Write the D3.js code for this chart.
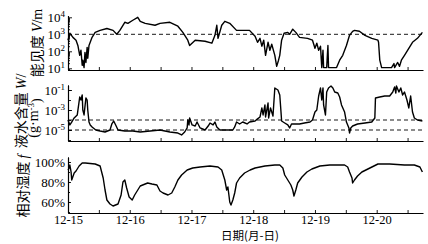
<!DOCTYPE html>
<html><head><meta charset="utf-8">
<script src="https://cdn.jsdelivr.net/npm/d3@7/dist/d3.min.js"></script>
<style>body{margin:0;background:#fff}svg{display:block}</style>
</head><body><svg id="c" width="428" height="244"></svg>
<script>
// time in days since 12-15 00:00
const dateLabels = ["12-15","12-16","12-17","12-18","12-19","12-20"];
const halfDays = [0,0.5,1,1.5,2,2.5,3,3.5,4,4.5,5,5.5];

const visTime = [
 0,0.03,0.08,0.13,0.16,0.19,0.21,0.23,0.24,0.26,
 0.275,0.29,0.31,0.32,0.34,0.39,0.44,0.52,0.63,0.73,
 0.79,0.84,0.92,0.97,1.05,1.13,1.17,1.25,1.41,1.49,
 1.65,1.78,1.86,1.94,1.97,2.06,2.22,2.33,2.38,2.41,
 2.43,2.49,2.54,2.62,2.73,2.86,2.94,3.03,3.07,3.11,
 3.14,3.17,3.20,3.24,3.27,3.30,3.35,3.38,3.41,3.43,
 3.46,3.50,3.56,3.59,3.64,3.69,3.75,3.88,3.96,4.00,
 4.03,4.06,4.09,4.11,4.13,4.14,4.19,4.21,4.22,4.35,
 4.40,4.45,4.51,4.56,4.61,4.64,4.72,4.81,4.92,5.02,
 5.03,5.05,5.08,5.24,5.28,5.29,5.34,5.37,5.40,5.45,
 5.50,5.58,5.66,5.74];
const visValue = [
 450,1150,660,450,220,58,115,15,30,11,
 87,22,170,39,220,660,1300,1700,2200,1700,
 1000,1700,5100,4400,6700,10000,5800,4400,3400,4400,
 5100,3000,1300,450,220,450,390,300,870,3400,
 580,3400,5800,4400,1700,1700,1700,760,340,580,
 200,450,58,340,115,260,58,13,30,58,
 450,1150,1300,1000,2000,1300,660,580,450,150,
 300,115,200,11,115,11,11,220,11,11,
 30,58,220,870,1500,1700,1500,870,580,450,
 340,30,11,11,19,11,22,13,30,58,
 115,340,580,1300];

const lwcTime = [
 0,0.03,0.06,0.10,0.15,0.19,0.21,0.23,0.24,0.26,
 0.29,0.31,0.32,0.34,0.36,0.39,0.45,0.52,0.60,0.68,
 0.71,0.74,0.78,0.81,0.92,1.05,1.17,1.33,1.49,1.65,
 1.78,1.84,1.89,1.93,1.94,1.96,1.97,2.01,2.06,2.09,
 2.14,2.22,2.27,2.30,2.35,2.38,2.41,2.46,2.54,2.67,
 2.70,2.73,2.78,2.83,2.90,2.94,3.03,3.07,3.11,3.14,
 3.16,3.19,3.20,3.24,3.25,3.28,3.32,3.35,3.40,3.43,
 3.45,3.46,3.51,3.56,3.59,3.62,3.67,3.75,3.83,3.92,
 3.96,4.00,4.03,4.06,4.09,4.11,4.13,4.14,4.17,4.19,
 4.22,4.26,4.29,4.32,4.37,4.40,4.43,4.48,4.51,4.55,
 4.56,4.58,4.61,4.69,4.81,4.92,4.97,4.98,5.05,5.13,
 5.21,5.26,5.29,5.31,5.32,5.36,5.39,5.42,5.45,5.49,
 5.52,5.55,5.58,5.61,5.66,5.74];
const lwcValue = [
 1e-4,3.2e-5,6.3e-5,1.6e-4,3.2e-4,2e-2,1e-2,3.2e-2,1e-3,3.2e-4,
 1.6e-2,1e-2,1e-3,6.3e-5,3.2e-5,2e-5,1e-5,7.9e-6,6.3e-6,1e-5,
 4e-5,7.9e-5,2.5e-5,1e-5,7.9e-6,7.9e-6,6.3e-6,7.9e-6,1e-5,6.3e-6,
 5e-6,3.2e-6,6.3e-6,1.6e-5,1e-4,3.2e-5,1.6e-4,3.2e-5,2.5e-5,6.3e-5,
 1.6e-5,1e-5,2.5e-5,5e-5,3.2e-5,6.3e-5,2e-5,1e-5,1e-5,1e-5,
 2e-5,6.3e-5,4e-5,6.3e-5,4e-5,6.3e-5,7.9e-5,1.3e-4,2e-4,1.6e-3,
 3.2e-4,3.2e-3,2e-4,5e-3,1.6e-4,1.6e-3,2.5e-4,0.16,0.1,3.2e-2,
 6.3e-4,7.9e-5,5e-5,3.2e-5,1.6e-5,4e-5,4e-5,4e-5,5e-5,6.3e-5,
 1e-4,6.3e-4,1e-3,2.5e-2,0.16,1e-2,0.16,3.2e-3,3.2e-4,6.3e-2,
 0.16,0.25,0.16,6.3e-2,5e-2,2e-2,3.2e-3,6.3e-4,6.3e-5,1.6e-5,
 5e-6,1.6e-5,2.5e-5,4e-5,5e-5,6.3e-5,1.6e-4,1.6e-2,2e-2,2.5e-2,
 2.5e-2,6.3e-2,0.2,5e-2,0.25,6.3e-2,0.16,3.2e-2,6.3e-2,1e-2,
 1.6e-3,2.5e-2,6.3e-4,1.6e-4,1e-4,7.9e-5];

const rhTime = [
 0,0.02,0.03,0.05,0.06,0.10,0.13,0.18,0.23,0.28,
 0.44,0.52,0.57,0.60,0.63,0.68,0.73,0.81,0.86,0.89,
 0.92,0.95,0.99,1.04,1.08,1.13,1.17,1.25,1.29,1.36,
 1.44,1.49,1.54,1.62,1.68,1.73,1.78,1.84,1.93,2.02,
 2.14,2.30,2.43,2.49,2.54,2.57,2.59,2.61,2.62,2.64,
 2.67,2.70,2.73,2.78,2.86,2.95,3.03,3.19,3.35,3.43,
 3.48,3.51,3.56,3.61,3.64,3.66,3.69,3.72,3.79,3.87,
 3.95,4.08,4.24,4.48,4.53,4.56,4.60,4.61,4.64,4.69,
 4.76,4.89,5.02,5.21,5.45,5.61,5.70,5.74];
const rhValue = [
 92,94,97,90,82,89,91,96,99,99,
 98,96,84,72,62,58,56,58,67,80,
 82,74,65,62,67,72,76,78,79,78,
 77,71,69,67,69,75,82,87,92,94,
 95,96,95,92,82,72,75,65,60,57,
 62,69,79,84,89,92,94,96,97,97,
 94,87,82,77,72,66,72,79,85,90,
 93,96,97,97,95,90,84,79,82,86,
 90,94,98,98,97,97,95,90];

const visMajor = [10,100,1000,10000];
const lwcMajor = [1e-1,1e-3,1e-5];
const lwcAll = [1e-6,1e-5,1e-4,1e-3,1e-2,1e-1];
const rhTicks = [60,80,100];
const visRef = [1000];
const lwcRef = [1e-4,1e-5];

const svg = d3.select("#c");
const SERIF = "'Liberation Serif','Times New Roman',serif";
const CJK = "'Noto Sans CJK SC','Noto Sans CJK JP',sans-serif";

const x = d3.scaleLinear().domain([0,5.75]).range([68,423]);
const y1 = d3.scaleLog().domain([Math.pow(10,0.9),Math.pow(10,4.1)]).range([70,15.6]);
const y2 = d3.scaleLog().domain([Math.pow(10,-6.1),Math.pow(10,-0.5)]).range([141,85]);
const y3 = d3.scaleLinear().domain([49,105]).range([213,157]);

function styleAxis(g, fs){
  g.attr("font-family",SERIF);
  g.selectAll("path.domain").attr("stroke","#000").attr("stroke-width",1.1);
  g.selectAll(".tick line").attr("stroke","#000").attr("stroke-width",0.9);
  g.selectAll("text").attr("font-family",SERIF).attr("font-size",(fs||13)+"px").attr("fill","#000");
}

function xAxis(ybase, withLabels){
  const g = svg.append("g").attr("transform",`translate(0,${ybase})`)
    .call(d3.axisBottom(x).tickValues(halfDays).tickSize(-3).tickSizeOuter(0).tickPadding(2)
      .tickFormat(d => withLabels && Number.isInteger(d) ? dateLabels[d] : ""));
  styleAxis(g, 12.5);
}

function supLabels(g, expFn){
  g.selectAll(".tick text").each(function(d){
    const t = d3.select(this); t.text("");
    t.append("tspan").text("10");
    t.append("tspan").attr("dy","-0.5em").attr("font-size","9px").text(expFn(d));
  });
}

// minor ticks for log axis 1
const visMinor = [];
for (let e=0; e<=4; e++) for (let k=2; k<=9; k++){
  const v = k*Math.pow(10,e);
  if (v>y1.domain()[0] && v<y1.domain()[1]) visMinor.push(v);
}
const rhMinor = [50,60,70,80,90,100];

// Panel 1
let g = svg.append("g").attr("transform","translate(68,0)")
  .call(d3.axisLeft(y1).tickValues(visMinor).tickSize(-2).tickSizeOuter(0).tickFormat(""));
styleAxis(g);
g = svg.append("g").attr("transform","translate(68,0)")
  .call(d3.axisLeft(y1).tickValues(visMajor).tickSize(-4).tickSizeOuter(0).tickPadding(3));
styleAxis(g);
supLabels(g, d => String(Math.round(Math.log10(d))));
xAxis(70,false);

// Panel 2
g = svg.append("g").attr("transform","translate(68,0)")
  .call(d3.axisLeft(y2).tickValues(lwcAll).tickSize(-3).tickSizeOuter(0).tickFormat(""));
styleAxis(g);
g = svg.append("g").attr("transform","translate(68,0)")
  .call(d3.axisLeft(y2).tickValues(lwcMajor).tickSize(-4).tickSizeOuter(0).tickPadding(3));
styleAxis(g);
supLabels(g, d => "-" + Math.round(-Math.log10(d)));
xAxis(141,false);

// Panel 3
g = svg.append("g").attr("transform","translate(68,0)")
  .call(d3.axisLeft(y3).tickValues(rhMinor).tickSize(-2).tickSizeOuter(0).tickFormat(""));
styleAxis(g);
g = svg.append("g").attr("transform","translate(68,0)")
  .call(d3.axisLeft(y3).tickValues(rhTicks).tickSize(-3).tickSizeOuter(0).tickPadding(3)
    .tickFormat(d => d + "%"));
styleAxis(g);
xAxis(213,true);

// dashed reference lines
svg.selectAll("line.r1").data(visRef).enter().append("line")
  .attr("x1",x(0)).attr("x2",x(5.75)).attr("y1",d=>y1(d)).attr("y2",d=>y1(d))
  .attr("stroke","#000").attr("stroke-width",0.9).attr("stroke-dasharray","4,3");
svg.selectAll("line.r2").data(lwcRef).enter().append("line")
  .attr("x1",x(0)).attr("x2",x(5.75)).attr("y1",d=>y2(d)).attr("y2",d=>y2(d))
  .attr("stroke","#000").attr("stroke-width",0.9).attr("stroke-dasharray","4,3");

// series lines
function drawLine(ts, vs, ys){
  const pts = ts.map((t,i)=>[t,vs[i]]);
  svg.append("path").datum(pts)
    .attr("d", d3.line().x(d=>x(d[0])).y(d=>ys(d[1])))
    .attr("fill","none").attr("stroke","#000").attr("stroke-width",1.4)
    .attr("stroke-linejoin","round");
}
drawLine(visTime, visValue, y1);
drawLine(lwcTime, lwcValue, y2);
drawLine(rhTime, rhValue, y3);

// titles
function vtitle(cx, cy, parts){
  const t = svg.append("text").attr("transform",`translate(${cx},${cy}) rotate(-90)`)
    .attr("text-anchor","middle").attr("font-size","14px").attr("fill","#000");
  parts.forEach(p=>{
    const s = t.append("tspan").text(p.t).attr("font-family", p.cjk ? CJK : SERIF);
    if (p.i) s.attr("font-style","italic");
    if (p.dy) s.attr("dy",p.dy);
    if (p.fs) s.attr("font-size",p.fs);
  });
}
vtitle(42,43,[{t:"能见度 ",cjk:true},{t:"V",i:true},{t:"/m"}]);
vtitle(26,111,[{t:"液水含量 ",cjk:true},{t:"W",i:true},{t:"/"}]);
vtitle(38,118,[{t:"(g·m"},{t:"-3",dy:"-0.5em",fs:"9px"},{t:")",dy:"0.5em"}]);
vtitle(28,186,[{t:"相对湿度 ",cjk:true},{t:"f",i:true}]);

svg.append("text").attr("x",250).attr("y",240).attr("text-anchor","middle")
  .attr("font-family",CJK).attr("font-size","11.5px").attr("fill","#000").text("日期(月-日)");
</script></body></html>
